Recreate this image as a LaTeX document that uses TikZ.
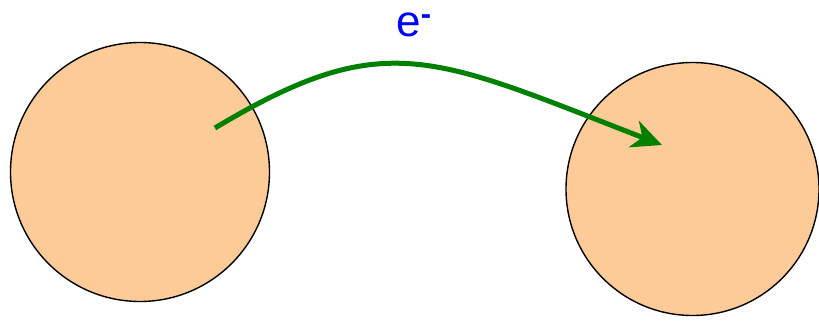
\documentclass[tikz,border=0pt]{standalone}
\usepackage{fontspec}
\setmainfont{Liberation Sans}
\usetikzlibrary{arrows.meta}
\definecolor{ball}{RGB}{253,203,151}
\definecolor{arrowgreen}{RGB}{0,128,0}
\tikzset{
  ballstyle/.style={circle, draw=black, line width=1.4pt, fill=ball, inner sep=0pt},
  transfer/.style={draw=arrowgreen, line width=5pt, -{Stealth[length=30pt, width=28pt, inset=9pt]}},
}
\begin{document}
\begin{tikzpicture}[x=1pt,y=-1pt]
\useasboundingbox (0,0) rectangle (819,321);
\node[ballstyle, minimum size=259pt] (left) at (140,172) {};
\node[ballstyle, minimum size=253pt] (right) at (692.5,189) {};
\coordinate (start) at (215,128);
\coordinate (tip) at (662,145);
\draw[transfer] (start) .. controls (385,26) and (432,56) .. (tip);
\node[text=blue, font=\fontsize{44}{44}\selectfont, inner sep=0pt, anchor=base] (label) at (414,37) {e\raisebox{3pt}{\textsuperscript{\textbf{-}}}};
\end{tikzpicture}
\end{document}
